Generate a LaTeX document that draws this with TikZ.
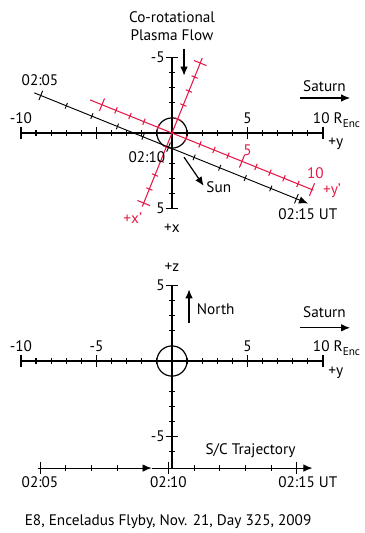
\documentclass[tikz,border=0pt]{standalone}
\usepackage{fontspec}
\setmainfont{PT Sans}
\usetikzlibrary{arrows.meta}
\definecolor{axred}{RGB}{228,26,72}

\begin{document}
\begin{tikzpicture}[x=0.4cm, y=0.4cm, line width=0.9pt,
  font=\fontsize{11.5}{13.5}\selectfont,
  tip/.style={-{Latex[length=2.4mm,width=2mm]}},
  lab/.style={anchor=base, inner sep=0pt},
  numl/.style={anchor=east, inner sep=0pt}]
\useasboundingbox (-11.39,8.81) rectangle (12.72,-26.49);

% ---- top panel: equatorial plane
% y axis
\draw (-10,0) -- (10,0);
\foreach \i in {-9,...,-6,-4,-3,-2,-1,1,2,3,4,6,7,8,9}
  \draw (\i,-0.22) -- (\i,0.22);
\foreach \i in {-10,-5,5,10}
  \draw (\i,-0.42) -- (\i,0.42);
% x axis (pointing down)
\draw (0,5) -- (0,-5);
\foreach \i in {-4,...,-2,2,3,4}
  \draw (-0.22,\i) -- (0.22,\i);
\foreach \i in {-5,5}
  \draw (-0.42,\i) -- (0.42,\i);
% Enceladus
\draw (0,0) circle (1);
% labels
\node[lab] (ym10) at (-10,0.6) {-10};
\node[lab] (yp5) at (5,0.6) {5};
\node[lab, anchor=base west] (yp10) at (9.3,0.6) {10 R\raisebox{-0.45ex}{\fontsize{8.5}{9}\selectfont Enc}};
\node[lab] (ylab) at (10.85,-0.86) {+y};
\node[numl] (xm5) at (-0.45,5) {-5};
\node[numl] (xp5) at (-0.45,-5) {5};
\node[lab] (xlab) at (0,-6.6) {+x};

% rotated frame x', y'
\begin{scope}[rotate=-22, axred, line width=0.8pt]
\draw (-5.85,0) -- (10.1,0);
\foreach \i in {-4,...,-1,1,2,3,4,6,7,8,9}
  \draw (\i,-0.22) -- (\i,0.22);
\foreach \i in {-5,5,10}
  \draw (\i,-0.45) -- (\i,0.45);
\draw (0,5.35) -- (0,-5.25);
\foreach \i in {-4,...,-1,1,2,3,4}
  \draw (-0.22,\i) -- (0.22,\i);
\foreach \i in {-5,5}
  \draw (-0.45,\i) -- (0.45,\i);
\end{scope}
\node[lab, text=axred] (rp5) at (5.0,-1.46) {5};
\node[lab, text=axred] (rp10) at (9.5,-3.0) {10};
\node[lab, text=axred] (yplab) at (10.6,-4.1) {+y’};
\node[lab, text=axred] (xplab) at (-2.6,-5.96) {+x’};

% trajectory
\begin{scope}[rotate=-22, line width=0.7pt]
\coordinate (trA) at (-9.45,-0.95);
\coordinate (trB) at (10.1,-0.95);
\draw[tip] (trA) -- (trB);
\foreach \k in {1,...,4,6,7,8,9}
  \draw ({-8.99+1.826*\k},-0.75) -- ({-8.99+1.826*\k},-1.15);
\foreach \k in {0,5,10}
  \draw ({-8.99+1.826*\k},-0.62) -- ({-8.99+1.826*\k},-1.28);
\end{scope}
\node[lab] (t05) at (-8.74,3.18) {02:05};
\node[lab] (t10) at (-1.66,-1.92) {02:10};
\node[lab] (t15) at (9.0,-5.76) {02:15 UT};

% directions
\node[align=center, inner sep=0pt] (flow) at (0,7.05) {Co-rotational\\Plasma Flow};
\coordinate (flowA) at (0.8,5.55);
\coordinate (flowB) at (0.8,3.8);
\draw[tip] (flowA) -- (flowB);
\node[lab] (sat) at (10.1,2.74) {Saturn};
\coordinate (satA) at (8.48,2.32);
\coordinate (satB) at (11.8,2.32);
\draw[tip] (satA) -- (satB);
\coordinate (sunA) at (0.8,-1.6);
\coordinate (sunB) at (2.1,-3.5);
\draw[tip] (sunA) -- (sunB);
\node[lab] (sun) at (3.1,-3.97) {Sun};

% ---- bottom panel: meridian plane
\begin{scope}[shift={(0,-15.1)}]
\draw (-10,0) -- (10,0);
\foreach \i in {-9,...,-6,-4,-3,-2,-1,1,2,3,4,6,7,8,9}
  \draw (\i,-0.22) -- (\i,0.22);
\foreach \i in {-10,-5,5,10}
  \draw (\i,-0.42) -- (\i,0.42);
% z axis
\draw (0,5) -- (0,-7.09);
\foreach \i in {-6,-4,-3,-2,2,3,4}
  \draw (-0.22,\i) -- (0.22,\i);
\foreach \i in {-5,5}
  \draw (-0.42,\i) -- (0.42,\i);
\draw (0,0) circle (1);
\node[lab] (bym10) at (-10,0.6) {-10};
\node[lab] (bym5) at (-5,0.6) {-5};
\node[lab] (byp5) at (5,0.6) {5};
\node[lab, anchor=base west] (byp10) at (9.3,0.6) {10 R\raisebox{-0.45ex}{\fontsize{8.5}{9}\selectfont Enc}};
\node[lab] (bylab) at (10.85,-0.93) {+y};
\node[numl] (zp5) at (-0.45,5) {5};
\node[numl] (zm5) at (-0.45,-5) {-5};
\node[lab] (zlab) at (0,5.9) {+z};

\coordinate (northA) at (1.13,2.5);
\coordinate (northB) at (1.13,4.75);
\draw[tip] (northA) -- (northB);
\node[lab] (north) at (2.9,3.05) {North};
\node[lab] (bsat) at (10.1,2.85) {Saturn};
\coordinate (bsatA) at (8.48,2.2);
\coordinate (bsatB) at (11.8,2.2);
\draw[tip] (bsatA) -- (bsatB);

% trajectory projected
\coordinate (btrA) at (-8.9,-7.09);
\coordinate (btrM) at (-1.35,-7.09);
\coordinate (btrB) at (9.3,-7.09);
\draw[tip, line width=0.7pt] (btrA) -- (btrM);
\draw[tip, line width=0.7pt] (btrM) -- (btrB);
\foreach \k in {1,2,3,6,7,8,9}
  \draw[line width=0.7pt] ({-8.74+1.70*\k},-6.89) -- ({-8.74+1.70*\k},-7.29);
\foreach \k in {0,5,10}
  \draw[line width=0.7pt] ({-8.74+1.70*\k},-6.7) -- ({-8.74+1.70*\k},-7.48);
\node[lab] (sct) at (5.2,-6.2) {S/C Trajectory};
\node[lab] (bt05) at (-8.74,-8.35) {02:05};
\node[lab] (bt10) at (-0.24,-8.35) {02:10};
\node[lab] (bt15) at (9.0,-8.35) {02:15 UT};

\node[lab] (cap) at (-0.26,-10.86) {E8, Enceladus Flyby, Nov. 21, Day 325, 2009};
\end{scope}
\end{tikzpicture}
\end{document}
